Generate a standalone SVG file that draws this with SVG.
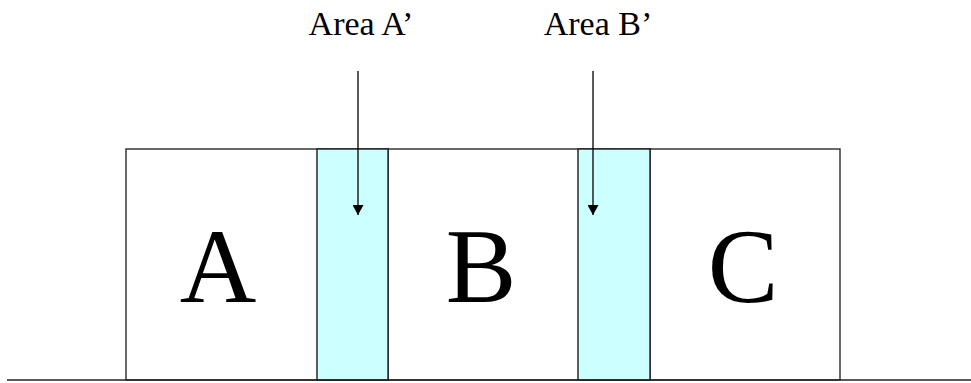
<svg xmlns="http://www.w3.org/2000/svg" width="971" height="383" viewBox="0 0 971 383">
<defs>
<style>
.box{fill:#ffffff;stroke:#2a2a2a;stroke-width:1.4}
.area{fill:#ccffff;stroke:#1a1a1a;stroke-width:1.4}
.big{font-family:"Liberation Serif","Times New Roman",serif;font-size:106px;fill:#000;text-anchor:middle}
.lbl{font-family:"Liberation Serif","Times New Roman",serif;font-size:34px;fill:#000;text-anchor:middle}
.conn{stroke:#000;stroke-width:1.3;fill:none}
</style>
<marker id="ah" markerWidth="11" markerHeight="11" refX="10" refY="5.5" orient="auto" markerUnits="userSpaceOnUse">
<path d="M0,0 L10,5.5 L0,11 Z" fill="#000"/>
</marker>
</defs>
<rect width="971" height="383" fill="#ffffff"/>
<g id="nodeA">
<rect class="box" x="126" y="149" width="262" height="231"/>
<text class="big" x="218" y="302">A</text>
</g>
<g id="nodeB">
<rect class="box" x="388" y="149" width="262" height="231"/>
<text class="big" x="481" y="302">B</text>
</g>
<g id="nodeC">
<rect class="box" x="650" y="149" width="190" height="231"/>
<text class="big" x="743" y="302">C</text>
</g>
<g id="areaA">
<rect class="area" x="317" y="149" width="71" height="231"/>
</g>
<g id="areaB">
<rect class="area" x="578" y="149" width="72" height="231"/>
</g>
<g id="ground">
<line x1="7" y1="380" x2="971" y2="380" stroke="#222" stroke-width="1.5"/>
</g>
<g id="labelA">
<text class="lbl" x="361" y="35">Area A’</text>
</g>
<g id="labelB">
<text class="lbl" x="598" y="35">Area B’</text>
</g>
<g id="connectors">
<line class="conn" x1="358" y1="71" x2="358" y2="215" marker-end="url(#ah)"/>
<line class="conn" x1="593" y1="71" x2="593" y2="215" marker-end="url(#ah)"/>
</g>
</svg>
